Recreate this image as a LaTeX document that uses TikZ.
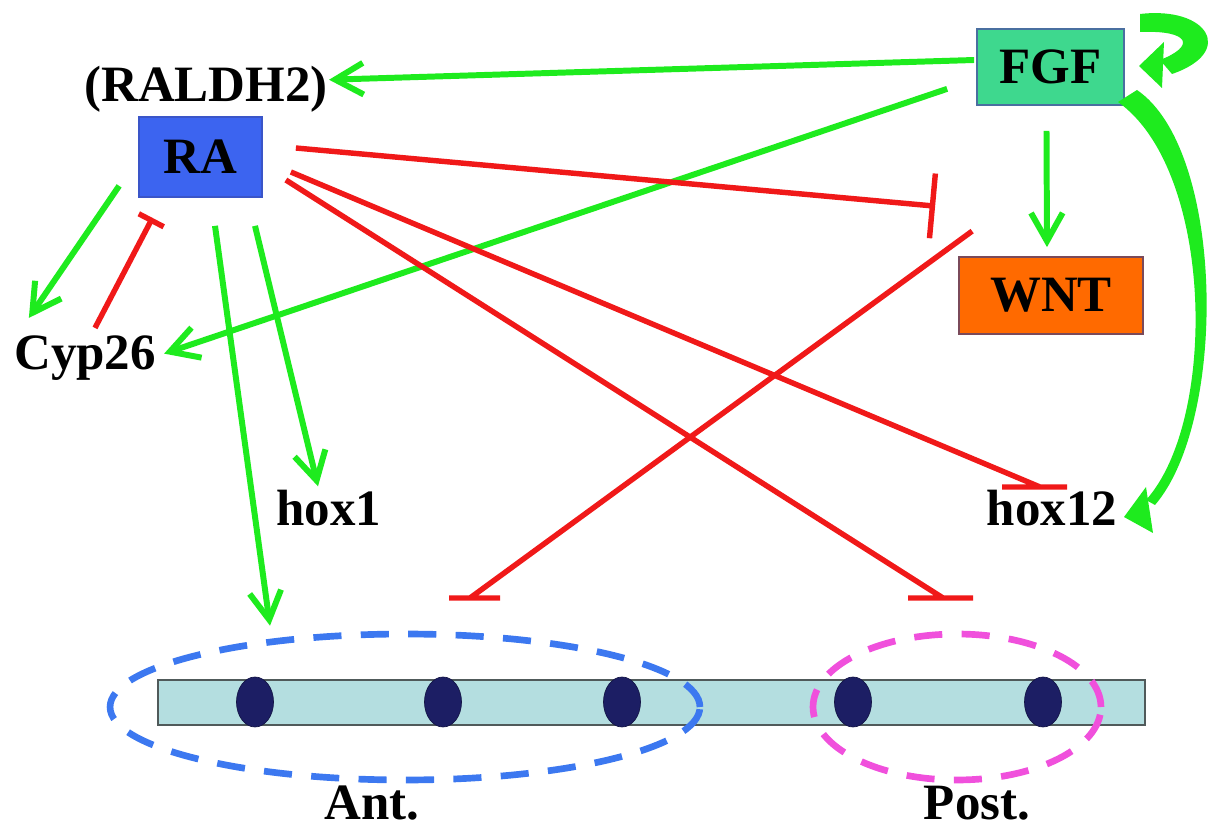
\documentclass[tikz,border=0pt]{standalone}
\usepackage{fontspec}
\setmainfont{Liberation Serif}
\usetikzlibrary{arrows.meta,shapes.geometric}
\definecolor{actgreen}{RGB}{30,235,30}
\definecolor{inhred}{RGB}{240,25,25}
\definecolor{fgfgreen}{RGB}{62,216,142}
\definecolor{rablue}{RGB}{60,100,240}
\definecolor{wntorange}{RGB}{255,106,0}
\definecolor{barcyan}{RGB}{180,222,224}
\definecolor{somitenavy}{RGB}{28,30,100}
\definecolor{antblue}{RGB}{60,120,240}
\definecolor{postpink}{RGB}{240,80,220}
\tikzset{%
  >={Straight Barb[length=16pt,width=18pt]},
  % Specifications for style of nodes:
        lbl/.style = {inner sep=0pt, font=\fontsize{29}{32}\selectfont\bfseries},
       base/.style = {rectangle, lbl, line width=1pt, text centered},
     fgfbox/.style = {base, fill=fgfgreen, draw={rgb,255:red,74;green,111;blue,160},
                      minimum width=2.94cm, minimum height=1.52cm},
      rabox/.style = {base, fill=rablue, draw={rgb,255:red,58;green,85;blue,200},
                      minimum width=2.46cm, minimum height=1.6cm},
     wntbox/.style = {base, fill=wntorange, draw={rgb,255:red,122;green,74;blue,90},
                      minimum width=3.68cm, minimum height=1.54cm},
    axisbar/.style = {rectangle, fill=barcyan, draw={rgb,255:red,80;green,90;blue,90},
                      line width=1.1pt, minimum width=19.74cm, minimum height=0.9cm},
     somite/.style = {ellipse, fill=somitenavy, draw=somitenavy!70!black, inner sep=0pt,
                      minimum width=0.74cm, minimum height=1.0cm},
       zone/.style = {ellipse, line width=3.8pt, dash pattern=on 16pt off 11pt},
        act/.style = {->, actgreen, line width=3.4pt},
        inh/.style = {inhred, line width=3.1pt}
}
\begin{document}
\begin{tikzpicture}[x=0.02cm, y=-0.02cm]
  \useasboundingbox (0,0) rectangle (1215,831);
  % signalling centres
  \node (fgf) [fgfbox] at (1050.5,67) {FGF};
  \node (ra)  [rabox]  at (200.5,157) {RA};
  \node (wnt) [wntbox] at (1051,295.5) {WNT};
  \node (raldh) [lbl, anchor=base] at (206,102)  {(RALDH2)};
  \node (cyp)   [lbl, anchor=base] at (85,370)   {Cyp26};
  \node (hoxa)  [lbl, anchor=base] at (329,525)  {hox1};
  \node (hoxb)  [lbl, anchor=base] at (1052,525) {hox12};
  \node (ant)   [lbl, anchor=base] at (372,819)  {Ant.};
  \node (post)  [lbl, anchor=base] at (977,819)  {Post.};
  % axis with somites
  \node (axis) [axisbar] at (651.5,702.5) {};
  \foreach \x [count=\i] in {255,443,622,853,1043}
    \node (som\i) [somite] at (\x,702) {};
  \node (antzone)  [zone, draw=antblue,  minimum width=11.8cm, minimum height=2.92cm] at (405,707) {};
  \node (postzone) [zone, draw=postpink, minimum width=5.76cm, minimum height=2.92cm] at (957,707) {};
  \coordinate (antbar)  at (470,598);
  \coordinate (postbar) at (943,598);
  \coordinate (hoxbar)  at (1040,487);

  % activation
  \draw[act] ([shift={(-2,-7)}]fgf.west) -- ([shift={(1,-10)}]raldh.east);
  \draw[act] ([shift={(-29,-17)}]fgf.south west) -- ([shift={(8,-5)}]cyp.east);
  \draw[act] ([shift={(-4,25)}]fgf.south) -- ([shift={(-4,-9)}]wnt.north);
  \draw[act] ([shift={(-19,-12)}]ra.south west) -- ([shift={(15,-18)}]cyp.north west);
  \draw[act] ([shift={(14.5,28)}]ra.south) -- ([shift={(-135,-5)}]antzone.north);
  \draw[act] ([shift={(54.5,28)}]ra.south) -- ([shift={(-11,-3)}]hoxa.north);
  % FGF loops
  \fill[actgreen] (1140,14) .. controls (1208,6) and (1236,52) .. (1172,74)
    -- (1160,60) .. controls (1196,46) and (1190,30) .. (1140,32) -- cycle;
  \fill[actgreen] (1139,66) -- (1164,42) -- (1162,88) -- cycle;
  \fill[actgreen] (1137,90) .. controls (1225,150) and (1228,420) .. (1155,505)
    -- (1146,500) .. controls (1218,420) and (1214,170) .. (1118,102) -- cycle;
  \fill[actgreen] (1124,517) -- (1146,487) -- (1153,533) -- cycle;

  % inhibition
  \draw[inh, -{Bar[width=37pt]}] ([shift={(33,-9)}]ra.east) -- ([shift={(-23,-50)}]wnt.north west);
  \draw[inh, -{Bar[width=16pt]}] ([shift={(10,-8)}]cyp.north) -- ([shift={(-48,20)}]ra.south);
  \draw[inh] ([shift={(14,-25)}]wnt.north west) -- (antbar) +(-21,0) -- +(30,0);
  \draw[inh] ([shift={(23,23)}]ra.east) -- (postbar) +(-35,0) -- +(30,0);
  \draw[inh] ([shift={(28,15)}]ra.east) -- (hoxbar) +(-38,0) -- +(27,0);
\end{tikzpicture}
\end{document}
